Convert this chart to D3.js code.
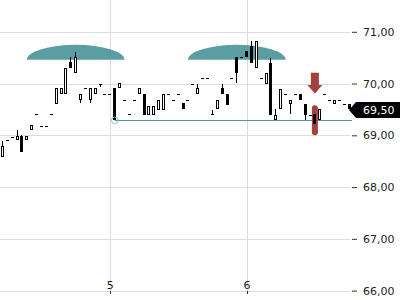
<!DOCTYPE html>
<html><head><meta charset="utf-8">
<script src="https://cdn.jsdelivr.net/npm/d3@7"></script>
<style>html,body{margin:0;padding:0;background:#fff;}svg{display:block;font-family:"DejaVu Sans",sans-serif;}</style>
</head><body><svg id="c" width="400" height="300"></svg>
<script>
// Half-hour candles (index 0..71)
const open  = [68.58,68.90,68.97,68.90,68.99,68.90,69.10,69.42,69.18,69.18,69.42,69.60,69.79,69.79,70.41,70.20,69.69,69.91,69.69,69.79,70.00,69.80,69.80,69.91,69.91,69.69,69.42,69.69,69.79,69.79,69.40,69.40,69.49,69.49,69.79,69.69,69.79,69.62,69.69,70.00,69.79,70.10,70.10,69.42,69.50,69.91,69.80,70.10,70.51,70.52,70.63,70.72,70.30,70.10,70.00,70.40,69.29,69.50,69.79,69.60,69.79,69.79,69.60,69.40,69.42,69.29,69.79,69.69,69.60,69.69,69.60,69.60];
const close = [68.80,68.90,68.97,68.99,68.68,68.98,69.19,69.42,69.18,69.18,69.42,69.91,69.91,70.30,70.30,70.52,69.79,69.91,69.91,69.91,70.00,69.80,69.80,69.29,70.02,69.69,69.42,69.69,69.91,69.40,69.56,69.56,69.68,69.79,69.79,69.69,69.79,69.50,69.69,70.00,69.91,70.10,70.10,69.42,69.69,69.79,69.59,70.10,70.20,70.52,70.52,70.40,70.82,70.10,70.20,69.40,69.40,69.90,69.79,69.69,69.79,69.69,69.40,69.40,69.21,69.50,69.79,69.69,69.69,69.69,69.60,69.50];
const high  = [68.89,68.90,68.97,69.10,69.00,68.98,69.19,69.42,69.18,69.18,69.42,69.91,69.91,70.30,70.52,70.61,69.79,69.91,69.91,69.91,70.00,69.80,69.80,69.91,70.02,69.69,69.42,69.69,69.91,69.79,69.56,69.56,69.68,69.79,69.79,69.69,69.79,69.62,69.69,70.00,70.00,70.10,70.10,69.49,69.69,70.00,69.80,70.10,70.51,70.52,70.63,70.82,70.83,70.10,70.20,70.50,69.50,69.90,69.79,69.69,69.79,69.79,69.60,69.40,69.42,69.50,69.79,69.69,69.69,69.69,69.60,69.60];
const low   = [68.58,68.90,68.97,68.90,68.68,68.90,69.10,69.42,69.18,69.18,69.42,69.60,69.79,69.79,70.30,70.20,69.62,69.91,69.62,69.79,69.93,69.80,69.80,69.29,69.91,69.69,69.42,69.69,69.79,69.40,69.40,69.40,69.49,69.49,69.79,69.69,69.79,69.50,69.69,70.00,69.79,70.10,70.10,69.42,69.50,69.79,69.59,70.10,70.02,70.52,70.52,70.40,70.30,70.10,70.00,69.40,69.29,69.50,69.79,69.42,69.79,69.69,69.29,69.40,69.21,69.29,69.79,69.69,69.60,69.69,69.60,69.50];

const yTicks = [66,67,68,69,70,71];
const dayTickIndex = [22, 50];
const dayLabels = ["5", "6"];
const lastPrice = [69.50];
const supportLevel = [69.29];
const supportStartIndex = [23];
const domeCenterIndex = [15, 48];
const domeHalfBars = [10, 10];
const domeBase = [70.46, 70.46];
const domeTop = [70.75, 70.75];
const signalIndex = [64];
const arrowLevels = [70.21, 69.97, 69.81]; // shaft top, shaft bottom, tip
const pillLevels = [69.58, 69.00];

const svg = d3.select("#c");
const W = 400, H = 300;
const plotRight = 352;
const x = d3.scaleLinear().domain([-0.5, 71.6]).range([0, plotRight]);
const y = d3.scaleLinear().domain([66, 71]).range([290.6, 31.8]);
const fmt = d3.formatLocale({decimal: ",", thousands: ".", grouping: [3], currency: ["", "€"]}).format(".2f");
const px = v => Math.round(v) + 0.5;

// gridlines
svg.append("g").selectAll("line").data(yTicks).join("line")
  .attr("x1", 0).attr("x2", 350).attr("y1", d => px(y(d))).attr("y2", d => px(y(d)))
  .attr("stroke", "#dcdcdc").attr("stroke-width", 1);
svg.append("g").selectAll("line").data(dayTickIndex).join("line")
  .attr("x1", d => px(x(d))).attr("x2", d => px(x(d))).attr("y1", 0).attr("y2", px(y(66)))
  .attr("stroke", "#dcdcdc").attr("stroke-width", 1);

// right axis
const ax = svg.append("g").attr("transform", `translate(${plotRight},0)`)
  .call(d3.axisRight(y).tickValues(yTicks).tickFormat(fmt).tickSize(5).tickPadding(6));
ax.select(".domain").remove();
ax.selectAll(".tick line").attr("stroke", "#333");
ax.selectAll(".tick text").attr("fill", "#222").style("font-size", "11px").style("font-family", "DejaVu Sans");

// bottom ticks & labels
const bx = svg.append("g");
bx.selectAll("line").data(dayTickIndex).join("line")
  .attr("x1", d => px(x(d))).attr("x2", d => px(x(d))).attr("y1", 291).attr("y2", 294)
  .attr("stroke", "#333");
bx.selectAll("text").data(dayTickIndex).join("text")
  .attr("x", d => x(d) + 0.5).attr("y", 289).attr("text-anchor", "middle")
  .attr("fill", "#222").style("font-size", "11px").text((d, i) => dayLabels[i]);

// domes
svg.append("g").selectAll("path").data(domeCenterIndex).join("path")
  .attr("d", (d, i) => {
    const x0 = x(d - domeHalfBars[i]), x1 = x(d + domeHalfBars[i]);
    const yb = y(domeBase[i]), ry = yb - y(domeTop[i]), rx = (x1 - x0) / 2;
    return `M${x0},${yb} A${rx},${ry} 0 0 1 ${x1},${yb} Z`;
  })
  .attr("fill", "#5a9ea2");

// support line
svg.append("line").attr("x1", x(supportStartIndex[0])).attr("x2", plotRight)
  .attr("y1", px(y(supportLevel[0]))).attr("y2", px(y(supportLevel[0])))
  .attr("stroke", "#4f989c").attr("stroke-width", 1);

// red pill
const sx = x(signalIndex[0]);
svg.append("rect").attr("x", sx - 3).attr("width", 6)
  .attr("y", y(pillLevels[0])).attr("height", y(pillLevels[1]) - y(pillLevels[0]))
  .attr("rx", 3).attr("fill", "#a4403d");

// red arrow
const aT = y(arrowLevels[0]), aB = y(arrowLevels[1]), aTip = y(arrowLevels[2]);
svg.append("path")
  .attr("d", `M${sx-4},${aT} L${sx+4},${aT} L${sx+4},${aB} L${sx+7.5},${aB} L${sx},${aTip} L${sx-7.5},${aB} L${sx-4},${aB} Z`)
  .attr("fill", "#a4403d");

// candles
const idx = d3.range(open.length);
const cg = svg.append("g").attr("shape-rendering", "crispEdges");
idx.forEach(i => {
  const cx = Math.floor(x(i));
  const o = open[i], c = close[i], h = high[i], l = low[i];
  const yh = Math.round(y(h)), yl = Math.round(y(l));
  if (yl - yh > 0) {
    cg.append("line").attr("x1", cx + 0.5).attr("x2", cx + 0.5).attr("y1", yh).attr("y2", yl)
      .attr("stroke", "#000").attr("stroke-width", 1);
  }
  const yt = Math.round(y(Math.max(o, c))), yb = Math.round(y(Math.min(o, c)));
  if (yb - yt < 1) {
    cg.append("rect").attr("x", cx - 1).attr("width", 3).attr("y", yt).attr("height", 1).attr("fill", "#000");
  } else if (c > o) {
    cg.append("rect").attr("x", cx - 0.5).attr("width", 2).attr("y", yt + 0.5).attr("height", yb - yt - 1)
      .attr("fill", "#fff").attr("stroke", "#000").attr("stroke-width", 1);
  } else {
    cg.append("rect").attr("x", cx - 1).attr("width", 3).attr("y", yt).attr("height", yb - yt).attr("fill", "#000");
  }
});

// support circle
svg.append("circle").attr("cx", x(supportStartIndex[0])).attr("cy", y(supportLevel[0])).attr("r", 3.3)
  .attr("fill", "none").attr("stroke", "#8cc3c5").attr("stroke-width", 1);

// last price tag
const ly = Math.round(y(lastPrice[0])) + 1;
svg.append("path").attr("d", `M349,${ly} L356,${ly-8} L400,${ly-8} L400,${ly+8} L356,${ly+8} Z`).attr("fill", "#000");
svg.append("text").attr("x", 363).attr("y", ly + 4).attr("fill", "#fff").style("font-size", "11px").text(fmt(lastPrice[0]));
</script></body></html>
